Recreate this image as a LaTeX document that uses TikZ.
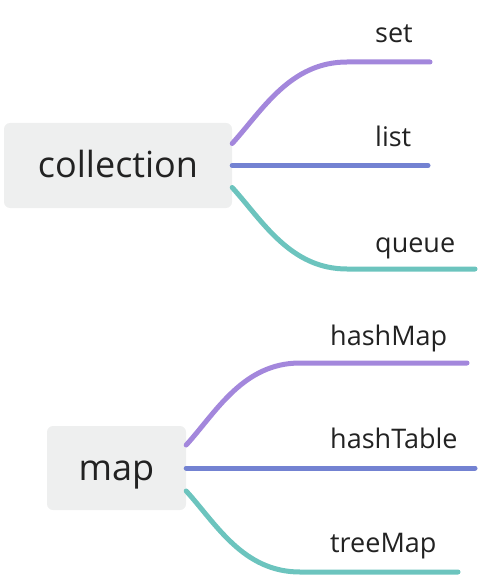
\documentclass[tikz,border=0pt]{standalone}
\usepackage{fontspec}
\setmainfont{Open Sans}

\begin{document}
\begin{tikzpicture}[x=1pt, y=-1pt,
		topic/.style={fill=boxgray, rounded corners=6pt, inner sep=0pt, text=ink,
			font=\fontsize{36}{43}\selectfont, text height=24pt, text depth=0pt},
		leaf/.style={anchor=base west, inner sep=0pt, text=ink, font=\fontsize{27}{32}\selectfont},
		branch/.style={line width=5pt, line cap=round, draw=#1}
		]
		
		% ==========================================
		% COLOURS
		% ==========================================
		\definecolor{boxgray}{RGB}{238,239,239}
		\definecolor{ink}{RGB}{34,34,34}
		\definecolor{col1}{RGB}{163,135,220}
		\definecolor{col2}{RGB}{115,130,210}
		\definecolor{col3}{RGB}{108,196,190}
		
		\useasboundingbox (0,0) rectangle (478,577);
		
		% ==========================================
		% COLLECTION
		% ==========================================
		\node[topic, minimum width=228pt, minimum height=85pt] (collection) at (118,165.5) {collection};
		
		\node[leaf] (set) at (375,43) {set};
		\node[leaf] (list) at (375,147) {list};
		\node[leaf] (queue) at (375,252) {queue};
		
		\coordinate (setbend) at (347,62);
		\coordinate (setend) at (430,62);
		\coordinate (listend) at (428,165.5);
		\coordinate (queuebend) at (347,269);
		\coordinate (queueend) at (475,269);
		
		\draw[branch=col1] ([yshift=22pt]collection.east) .. controls +(30,-33) and +(-57,0) .. (setbend) -- (setend);
		\draw[branch=col2] (collection.east) -- (listend);
		\draw[branch=col3] ([yshift=-22pt]collection.east) .. controls +(30,33) and +(-57,0) .. (queuebend) -- (queueend);
		
		% ==========================================
		% MAP
		% ==========================================
		\node[topic, minimum width=139pt, minimum height=84pt] (map) at (116.5,468) {map};
		
		\node[leaf] (hashMap) at (330,345) {hashMap};
		\node[leaf] (hashTable) at (330,448) {hashTable};
		\node[leaf] (treeMap) at (330,552) {treeMap};
		
		\coordinate (hashMapbend) at (300,363);
		\coordinate (hashMapend) at (467,363);
		\coordinate (hashTableend) at (475,468);
		\coordinate (treeMapbend) at (300,572);
		\coordinate (treeMapend) at (458,572);
		
		\draw[branch=col1] ([yshift=23pt]map.east) .. controls +(30,-33) and +(-57,0) .. (hashMapbend) -- (hashMapend);
		\draw[branch=col2] (map.east) -- (hashTableend);
		\draw[branch=col3] ([yshift=-23pt]map.east) .. controls +(30,33) and +(-57,0) .. (treeMapbend) -- (treeMapend);
		
	\end{tikzpicture}
\end{document}
